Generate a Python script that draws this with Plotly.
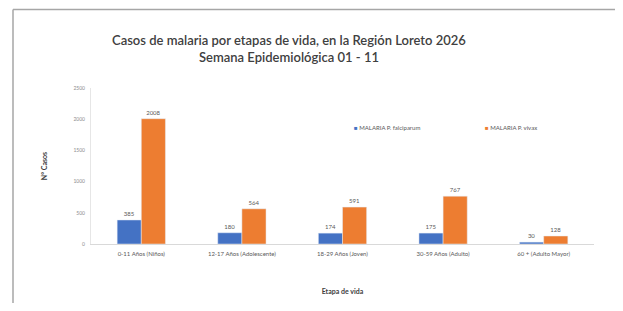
import plotly.graph_objects as go

categories = ["0-11 Años (Niños)", "12-17 Años (Adolescente)", "18-29 Años (Joven)", "30-59 Años (Adulto)", "60 + (Adulto Mayor)"]
falciparum = [385, 180, 174, 175, 30]
vivax = [2008, 564, 591, 767, 128]
y_ticks = [0, 500, 1000, 1500, 2000, 2500]
series_names = ["MALARIA P. falciparum", "MALARIA P. vivax"]
colors = ["#4472C4", "#ED7D31"]

W, H = 615, 295
L, R, T = 83, 29, 80
PW, PH = 503, 156
B = H - T - PH

fig = go.Figure()
for name, vals, col in zip(series_names, [falciparum, vivax], colors):
    fig.add_trace(go.Bar(x=categories, y=vals, name=name, marker_color=col,
                         text=vals, textposition="outside", showlegend=False,
                         textfont=dict(size=6, color="#595959"), cliponaxis=False))

legend_x = [(344 - L) / PW, (475 - L) / PW]
annotations = [
    dict(text="Casos de malaria por etapas de vida, en la Región Loreto 2026",
         xref="paper", yref="paper", x=0.394, y=1.0, yshift=48, showarrow=False,
         xanchor="center", yanchor="middle",
         font=dict(size=13, color="#404040", family="Lato", weight=600)),
    dict(text="Semana Epidemiológica 01 - 11",
         xref="paper", yref="paper", x=0.394, y=1.0, yshift=31, showarrow=False,
         xanchor="center", yanchor="middle",
         font=dict(size=13, color="#404040", family="Lato", weight=600)),
]
for name, col, lx in zip(series_names, colors, legend_x):
    annotations.append(dict(
        text=f"<span style='color:{col}'>■</span> {name}",
        xref="paper", yref="paper", x=lx, y=0.75, showarrow=False,
        xanchor="left", yanchor="middle", font=dict(size=6, color="#595959")))

fy_top = 1 + (T - 1.5) / PH
fy_bot = -B / PH
fx_left = (5 - L) / PW
fx_right = (613 - L) / PW
line = dict(color="#a6a6a6", width=1.5)

fig.update_layout(
    width=W, height=H,
    margin=dict(l=L, r=R, t=T, b=B, autoexpand=False),
    paper_bgcolor="white", plot_bgcolor="white",
    barmode="group", bargap=0.52, bargroupgap=0,
    font=dict(family="Lato", color="#595959"),
    showlegend=False,
    xaxis=dict(showgrid=False, showline=True, linecolor="#d9d9d9", linewidth=1,
               tickfont=dict(size=6, color="#595959"), ticks="", ticklabelstandoff=4,
               title=dict(text="<b>Etapa de vida</b>", font=dict(size=7, color="#404040"), standoff=32)),
    yaxis=dict(range=[0, 2500], tickvals=y_ticks, showgrid=False, showline=True,
               linecolor="#e6e6e6", linewidth=1, zeroline=False,
               tickfont=dict(size=5, color="#8c8c8c"), ticks="", ticklabelstandoff=4,
               title=dict(text="<b>N° Casos</b>", font=dict(size=7, color="#404040"), standoff=24)),
    annotations=annotations,
    shapes=[
        dict(type="line", xref="paper", yref="paper", x0=fx_left, x1=fx_left, y0=fy_bot, y1=fy_top, line=line),
        dict(type="line", xref="paper", yref="paper", x0=fx_left, x1=fx_right, y0=fy_top, y1=fy_top, line=line),
        dict(type="line", xref="paper", yref="paper", x0=fx_right, x1=fx_right, y0=fy_bot, y1=fy_top, line=line),
    ],
)

fig.write_html("out.html")
